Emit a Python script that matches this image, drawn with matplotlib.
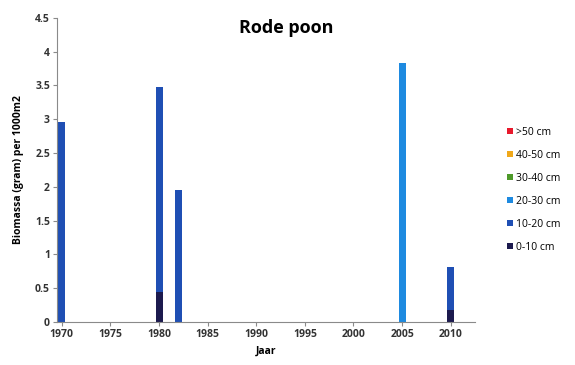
import matplotlib
matplotlib.use('Agg')
from matplotlib import pyplot as plt
import numpy as np

jaren = [1970, 1980, 1982, 2005, 2010]

# biomassa per lengteklasse
cm_0_10 = [0.0, 0.45, 0.0, 0.0, 0.18]
cm_10_20 = [2.96, 3.03, 1.95, 0.0, 0.63]
cm_20_30 = [0.0, 0.0, 0.0, 3.83, 0.0]
cm_30_40 = [0.0, 0.0, 0.0, 0.0, 0.0]
cm_40_50 = [0.0, 0.0, 0.0, 0.0, 0.0]
cm_50 = [0.0, 0.0, 0.0, 0.0, 0.0]

klassen = ['0-10 cm', '10-20 cm', '20-30 cm', '30-40 cm', '40-50 cm', '>50 cm']
kleuren = ['#1c1a4e', '#1f4fb4', '#1e8ae0', '#4e9a2a', '#f0a81a', '#e8192c']

plt.rcParams['font.family'] = ['Open Sans', 'DejaVu Sans']

fig = plt.figure(figsize=(5.75, 3.65), dpi=100)
ax = fig.add_axes([0.099, 0.118, 0.727, 0.833])

reeksen = [cm_0_10, cm_10_20, cm_20_30, cm_30_40, cm_40_50, cm_50]
onder = np.zeros(len(jaren))
handles = []
for naam, waarden, kleur in zip(klassen, reeksen, kleuren):
    b = ax.bar(jaren, waarden, width=0.72, bottom=onder, color=kleur, label=naam)
    handles.append(b)
    onder += np.array(waarden)

ax.set_xlim(1969.5, 2012.5)
ax.set_ylim(0, 4.5)
ax.set_yticks(np.arange(0, 4.51, 0.5))
ax.set_yticklabels(['0', '0.5', '1', '1.5', '2', '2.5', '3', '3.5', '4', '4.5'])
ax.set_xticks(range(1970, 2011, 5))

for s in ['top', 'right']:
    ax.spines[s].set_visible(False)
ax.spines['left'].set_color('#8a8a8a')
ax.spines['bottom'].set_color('#8a8a8a')
ax.spines['left'].set_linewidth(0.8)
ax.spines['bottom'].set_linewidth(0.8)
ax.tick_params(axis='both', labelsize=7.5, length=3, color='#8a8a8a', pad=2)
for lbl in ax.get_xticklabels() + ax.get_yticklabels():
    lbl.set_fontweight('bold')
    lbl.set_color('#333333')

fig.text(0.497, 0.922, 'Rode poon', fontsize=13, fontweight='bold', ha='center', va='center')
ax.set_xlabel('Jaar', fontsize=7.5, fontweight='bold', labelpad=4)
ax.set_ylabel('Biomassa (gram) per 1000m2', fontsize=7.5, fontweight='bold', labelpad=8)

fig.legend(handles[::-1], klassen[::-1], loc='center left', bbox_to_anchor=(0.865, 0.48),
           frameon=False, fontsize=7.5, handlelength=0.6, handleheight=0.6,
           labelspacing=1.15, handletextpad=0.3)

fig.savefig('out.png', dpi=100)
